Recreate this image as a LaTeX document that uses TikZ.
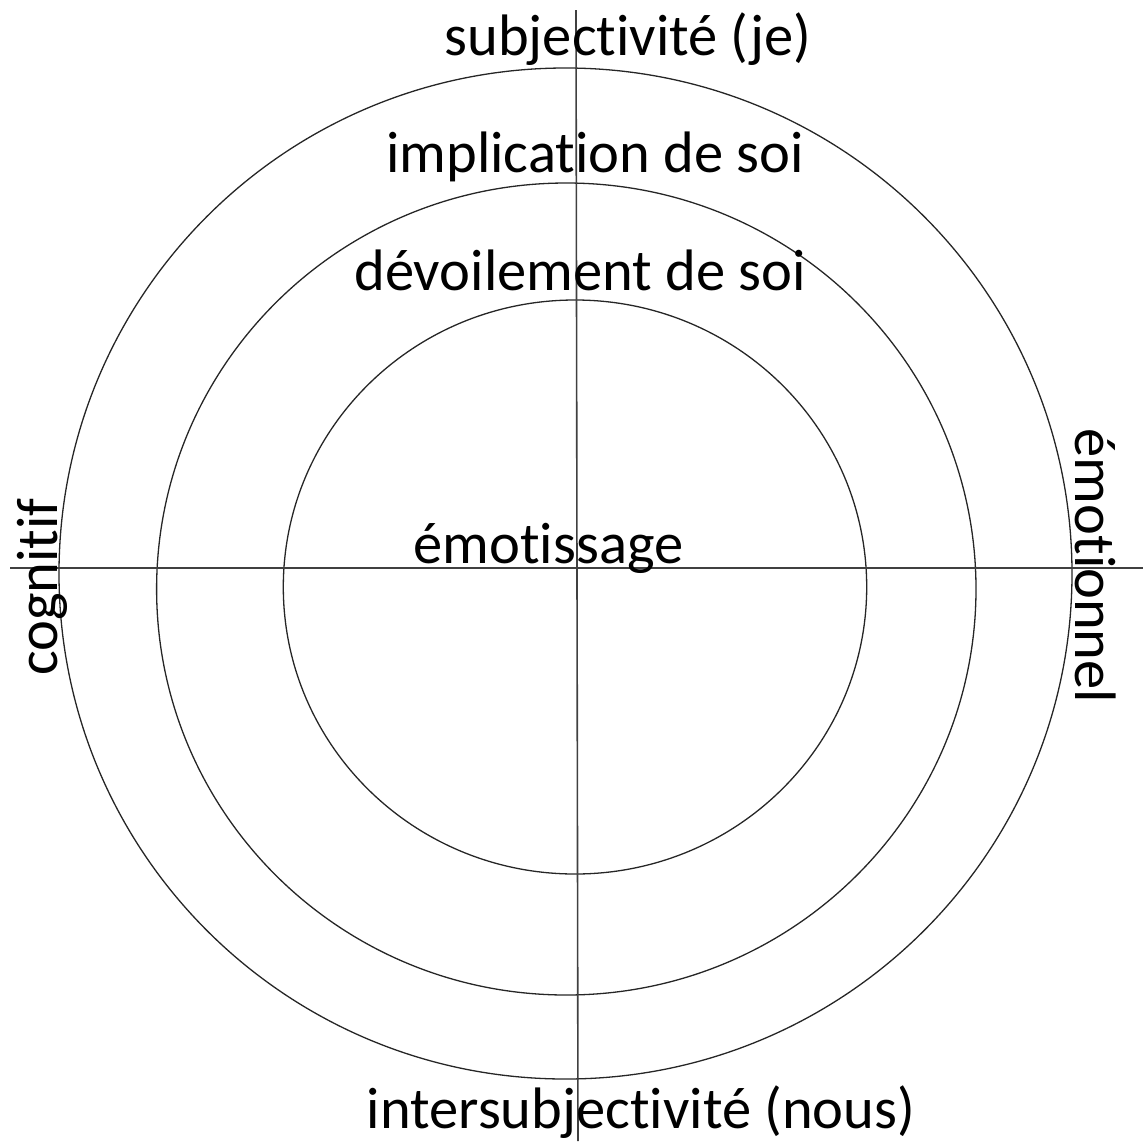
\documentclass[tikz,border=0pt]{standalone}
\usepackage{fontspec}
\setmainfont{Carlito}[Ligatures = NoCommon]
\usepackage{tikz}

\tikzset{
  ring/.style = {draw = black!85, line width = 1.3pt},
  axis/.style = {draw = black!75, line width = 1.6pt},
  lbl/.style  = {anchor = base, inner sep = 0pt, font = \fontsize{58.5}{70}\selectfont}
}

\begin{document}
\begin{tikzpicture}[x = 1pt, y = -1pt]
\useasboundingbox (0,0) rectangle (1143,1141);

\foreach \cx/\cy/\rx/\ry in {565.5/573.5/506.5/505.5, 566.3/589/409.7/406, 575/587/291.7/287}
	\draw[ring] (\cx,\cy) ellipse [x radius = \rx pt, y radius = \ry pt];

\coordinate (west) at (10,568);
\coordinate (east) at (1143,568);
\coordinate (north) at (576,10);
\coordinate (south) at (578,1141);
\draw[axis] (west) -- (east);
\draw[axis] (north) -- (south);

\node[lbl] (je) at (628,55) {subjectivité (je)};
\node[lbl] (implication) at (595,172) {implication de soi};
\node[lbl] (devoilement) at (580,290) {dévoilement de soi};
\node[lbl] (emotissage) at (548.5,563) {émotissage};
\node[lbl] (nous) at (641,1128) {intersubjectivité (nous)};
\node[lbl, rotate = 90] (cognitif) at (57,587) {cognitif};
\node[lbl, rotate = -90] (emotionnel) at (1075,566) {émotionnel};
\end{tikzpicture}
\end{document}
